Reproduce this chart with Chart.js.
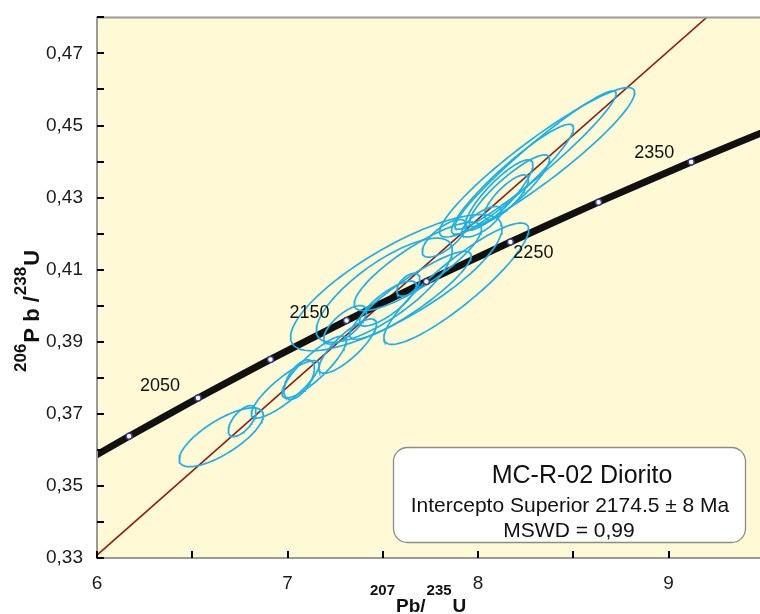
<!DOCTYPE html>
<html><head><meta charset="utf-8">
<script src="https://cdn.jsdelivr.net/npm/chart.js@4.4.1/dist/chart.umd.min.js"></script>
<style>html,body{margin:0;padding:0;background:#fff;overflow:hidden}canvas{display:block}</style>
</head><body>
<canvas id="c" width="760" height="614"></canvas>
<script>
// ---------- data ----------
// Concordia curve (206Pb/238U vs 207Pb/235U) sampled at these ages (Ma)
const concordiaAges = [1975, 2000, 2050, 2100, 2150, 2200, 2250, 2300, 2350, 2400];
const concordiaX = [5.9942, 6.1685, 6.5304, 6.9105, 7.3097, 7.7291, 8.1698, 8.6326, 9.1188, 9.6296];
const concordiaY = [0.35849, 0.36377, 0.37439, 0.38509, 0.39587, 0.40674, 0.41769, 0.42873, 0.43986, 0.45107];
const markerAges = [2000, 2050, 2100, 2150, 2200, 2250, 2300, 2350];
const labelAges = [2050, 2150, 2250, 2350];

// Discordia line end points
const discordiaX = [6.0, 9.2];
const discordiaY = [0.3308, 0.4800];

// Error ellipses: centre, half-extent in x / y, correlation
const ellX   = [6.652, 6.762, 6.988, 7.061, 7.140, 7.316, 7.303, 7.527, 7.634, 7.571, 7.886, 7.508, 7.645, 7.684, 7.823, 8.018, 8.310, 8.302, 8.181, 8.165, 8.110, 8.149];
const ellSX  = [0.2207, 0.0725, 0.178, 0.0799, 0.1687, 0.151, 0.112, 0.149, 0.0604, 0.555, 0.380, 0.357, 0.319, 0.334, 0.116, 0.1035, 0.512, 0.423, 0.320, 0.210, 0.178, 0.116];
const ellY   = [0.3635, 0.3680, 0.3768, 0.3795, 0.3830, 0.3888, 0.3947, 0.4006, 0.4058, 0.4064, 0.4061, 0.4043, 0.4029, 0.4109, 0.4187, 0.4233, 0.4398, 0.4404, 0.4351, 0.4319, 0.4307, 0.4301];
const ellSY  = [0.00816, 0.00429, 0.00797, 0.00547, 0.00857, 0.00753, 0.00533, 0.00624, 0.00316, 0.0189, 0.01684, 0.01445, 0.0122, 0.01228, 0.00522, 0.00423, 0.02074, 0.01918, 0.01525, 0.00997, 0.00978, 0.00621];
const ellRho = [0.751, 0.62, 0.852, 0.574, 0.855, 0.817, 0.704, 0.807, 0.515, 0.80, 0.891, 0.772, 0.90, 0.848, 0.707, 0.72, 0.933, 0.961, 0.933, 0.882, 0.86, 0.80];

// Axis tick labels
const xLabelValues = [6, 7, 8, 9];
const xLabelTexts = ['6', '7', '8', '9'];
const yLabelValues = [0.33, 0.35, 0.37, 0.39, 0.41, 0.43, 0.45, 0.47];
const yLabelTexts = ['0,33', '0,35', '0,37', '0,39', '0,41', '0,43', '0,45', '0,47'];

// Text
const boxLines = ['MC-R-02 Diorito', 'Intercepto Superior 2174.5 \u00B1 8 Ma', 'MSWD = 0,99'];
const xTitleParts = [['207', true], ['Pb/', false], ['235', true], ['U', false]];
const yTitleParts = [['206', true], ['P b /', false], ['238', true], ['U', false]];

// ---------- build ----------
const FONT = "'Liberation Sans', Arial, Helvetica, sans-serif";
const CYAN = '#1cb0e6';

function ellipsePoints(i) {
  const pts = [];
  const n = 96;
  const r = ellRho[i], q = Math.sqrt(1 - r * r);
  for (let k = 0; k <= n; k++) {
    const t = 2 * Math.PI * k / n;
    pts.push({ x: ellX[i] + ellSX[i] * Math.cos(t),
               y: ellY[i] + ellSY[i] * (r * Math.cos(t) + q * Math.sin(t)) });
  }
  return pts;
}

const concordiaData = concordiaX.map((x, i) => ({ x, y: concordiaY[i] }));
const markerData = markerAges.map(a => {
  const i = concordiaAges.indexOf(a);
  return { x: concordiaX[i], y: concordiaY[i] };
});

const datasets = [];
datasets.push({ data: markerData, showLine: false, pointRadius: 3, pointBorderWidth: 1.5,
  pointBackgroundColor: '#ffffff', pointBorderColor: '#3a3a8c', clip: 0 });
for (let i = 0; i < ellX.length; i++) {
  datasets.push({ data: ellipsePoints(i), showLine: true, pointRadius: 0, borderColor: CYAN,
    borderWidth: 1.7, fill: false, tension: 0, clip: 0 });
}
datasets.push({ data: concordiaData, showLine: true, pointRadius: 0, borderColor: '#111111',
  borderWidth: 7, tension: 0.2, fill: false, clip: 0, borderCapStyle: 'butt' });
datasets.push({ data: discordiaX.map((x, i) => ({ x, y: discordiaY[i] })), showLine: true,
  pointRadius: 0, borderColor: '#8e1f1a', borderWidth: 1.6, fill: false, clip: 0 });

function findLabel(vals, texts, v) {
  const i = vals.findIndex(t => Math.abs(t - v) < 1e-6);
  return i >= 0 ? texts[i] : '';
}

const labelOffsets = { 2050: [-38, -12], 2150: [-37, -8], 2250: [23, 11], 2350: [-37, -9] };

const decor = {
  id: 'decor',
  beforeDraw(chart) {
    const { ctx, chartArea: a } = chart;
    ctx.save();
    ctx.fillStyle = '#ffffff';
    ctx.fillRect(0, 0, chart.width, chart.height);
    ctx.fillStyle = '#fffad5';
    ctx.fillRect(a.left, a.top, a.right - a.left, a.bottom - a.top);
    ctx.restore();
  },
  afterDraw(chart) {
    const { ctx, chartArea: a, scales } = chart;
    const sx = scales.x, sy = scales.y;
    ctx.save();
    // frame
    ctx.strokeStyle = '#9a9a9a';
    ctx.lineWidth = 2;
    ctx.beginPath();
    ctx.moveTo(a.right, a.top); ctx.lineTo(a.left, a.top); ctx.lineTo(a.left, a.bottom); ctx.lineTo(a.right, a.bottom);
    ctx.stroke();
    // inward ticks
    ctx.strokeStyle = '#000';
    ctx.lineWidth = 2;
    ctx.beginPath();
    sy.ticks.forEach(t => {
      const y = Math.round(sy.getPixelForValue(t.value));
      ctx.moveTo(a.left, y); ctx.lineTo(a.left + 7, y);
    });
    sx.ticks.forEach(t => {
      const x = Math.round(sx.getPixelForValue(t.value));
      ctx.moveTo(x, a.bottom); ctx.lineTo(x, a.bottom - 7);
    });
    ctx.stroke();

    // concordia age labels
    ctx.fillStyle = '#111';
    ctx.font = '18px ' + FONT;
    ctx.textAlign = 'center';
    ctx.textBaseline = 'middle';
    labelAges.forEach(age => {
      const i = concordiaAges.indexOf(age);
      const px = sx.getPixelForValue(concordiaX[i]);
      const py = sy.getPixelForValue(concordiaY[i]);
      const o = labelOffsets[age];
      ctx.fillText(String(age), px + o[0], py + o[1]);
    });

    // annotation box
    ctx.beginPath();
    ctx.roundRect(393.5, 447.5, 352, 95, 14);
    ctx.fillStyle = '#ffffff';
    ctx.fill();
    ctx.strokeStyle = '#8c8c8c';
    ctx.lineWidth = 1.3;
    ctx.stroke();
    ctx.fillStyle = '#111';
    ctx.textBaseline = 'alphabetic';
    ctx.font = '25px ' + FONT;
    ctx.fillText(boxLines[0], 582, 483);
    ctx.font = '21px ' + FONT;
    ctx.fillText(boxLines[1], 570, 512);
    ctx.fillText(boxLines[2], 569, 537);

    // x title
    ctx.textAlign = 'left';
    let x = 370;
    xTitleParts.forEach(([t, sup]) => {
      ctx.font = 'bold ' + (sup ? 15 : 19) + 'px ' + FONT;
      ctx.fillText(t, x, sup ? 595 : 612);
      x += ctx.measureText(t).width + 1;
    });

    // y title (rotated)
    ctx.translate(0, 372);
    ctx.rotate(-Math.PI / 2);
    let u = 0;
    yTitleParts.forEach(([t, sup]) => {
      ctx.font = 'bold ' + (sup ? 17 : 22) + 'px ' + FONT;
      ctx.fillText(t, u, sup ? 26 : 39);
      u += ctx.measureText(t).width + 1;
    });
    ctx.restore();
  }
};

new Chart(document.getElementById('c'), {
  type: 'scatter',
  data: { datasets },
  options: {
    responsive: false,
    animation: false,
    devicePixelRatio: 1,
    events: [],
    layout: { padding: { top: 12, left: 0, right: 0, bottom: 0 }, autoPadding: false },
    plugins: { legend: { display: false }, tooltip: { enabled: false } },
    scales: {
      x: {
        type: 'linear', min: 6, max: 9.48,
        grid: { display: false }, border: { display: false },
        ticks: { stepSize: 0.5, includeBounds: false, autoSkip: false, maxRotation: 0, maxTicksLimit: 100,
          padding: 6, color: '#1a1a1a', font: { size: 19, family: FONT },
          callback: v => findLabel(xLabelValues, xLabelTexts, v) },
        afterFit: s => { s.height = 56; }
      },
      y: {
        type: 'linear', min: 0.33, max: 0.48,
        grid: { display: false }, border: { display: false },
        ticks: { stepSize: 0.01, autoSkip: false, maxTicksLimit: 100, includeBounds: false,
          padding: 6, color: '#1a1a1a', font: { size: 19, family: FONT },
          callback: v => findLabel(yLabelValues, yLabelTexts, v) },
        afterFit: s => { s.width = 97; }
      }
    }
  },
  plugins: [decor]
});
</script>
</body></html>
